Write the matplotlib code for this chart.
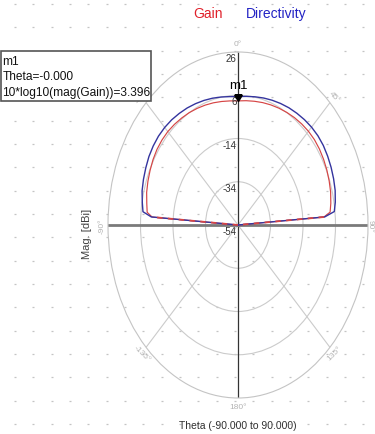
import numpy as np
import matplotlib
matplotlib.use("Agg")
import matplotlib.pyplot as plt
from matplotlib.patches import Rectangle
from matplotlib.path import Path

plt.rcParams['font.family'] = ['Liberation Sans', 'DejaVu Sans']

# ---------------- data ----------------
theta_deg = [-90, -86, -84, -80, -75, -70, -65, -60, -55, -50, -45, -40, -35, -30, -25,
             -20, -15, -10, -5, 0, 5, 10, 15, 20, 25, 30, 35, 40, 45, 50, 55, 60, 65,
             70, 75, 80, 84, 86, 90]
gain_db = [-60, -1.0, 2.2, 3.0, 4.2, 5.0, 5.7, 6.4, 6.9, 7.1, 7.1, 6.8, 6.4, 6.0, 5.5,
           5.0, 4.5, 4.0, 3.6, 3.396, 3.7, 4.1, 4.6, 5.1, 5.6, 6.1, 6.6, 7.0, 7.3, 7.4, 7.2, 6.8, 6.3,
           5.7, 5.0, 4.0, 3.0, -1.0, -60]
directivity_db = [-60, -0.5, 4.8, 5.8, 7.1, 7.9, 8.6, 9.3, 9.7, 9.9, 9.8, 9.5, 9.0, 8.5, 7.9,
                  7.3, 6.7, 6.1, 5.6, 5.4, 5.7, 6.2, 6.8, 7.4, 8.0, 8.6, 9.1, 9.6, 10.0, 10.2, 10.1, 9.7, 9.2,
                  8.6, 7.9, 6.8, 5.6, -0.5, -60]
r_ticks = [26, 6, -14, -34, -54]
r_min, r_max = -54, 26
theta_label_deg = [0, 45, 90, 135, 180, -135, -90, -45]
theta_label_rot = [0, -45, -90, 45, 0, -45, 90, 45]
theta_label_off = [3.8, 3.8, 1.2, 3.8, 3.8, 3.8, 3.8, 3.8]
marker_theta = 0.0
marker_value = 3.396
series_names = ["Gain", "Directivity"]
series_colors = ["#d64545", "#34349e"]
legend_colors = ["#e0202a", "#2323c4"]

W, H = 375, 435
fig = plt.figure(figsize=(W / 100, H / 100), dpi=100)

# background dotted grid
bg = fig.add_axes([0, 0, 1, 1], zorder=0)
bg.set_xlim(0, W); bg.set_ylim(H, 0); bg.axis('off')
gx, gy = np.meshgrid(np.arange(15, W, 18.33), np.arange(5, H, 23.33))
bg.plot(gx.ravel(), gy.ravel(), ls='none', marker='_', ms=2.0, mew=0.9, color='#c4c4c4')

# polar (elliptical) axes
cx, cy, hr, vr = 238, 226, 130, 173
ax = fig.add_axes([(cx - hr) / W, (H - (cy + vr)) / H, 2 * hr / W, 2 * vr / H],
                  projection='polar', zorder=1)
ax.set_aspect('auto')
ax.patch.set_facecolor('none')
ax.set_theta_zero_location('N')
ax.set_theta_direction(-1)
ax.set_ylim(r_min, r_max)
ax.set_yticks([-34, -14, 6])
ax.set_yticklabels([])
ax.set_xticks(np.deg2rad([45, 135, 225, 315]))
ax.set_xticklabels([])
ax.grid(True, color='#cbcbcb', lw=0.8)
ax.spines['polar'].set_color('#c4c4c4')
ax.spines['polar'].set_linewidth(0.8)

# main axis lines
for a in (0, 180):
    ax.plot(np.deg2rad([a, a]), [r_min, r_max], color='#333333', lw=0.9, zorder=2)
for a in (90, -90):
    ax.plot(np.deg2rad([a, a]), [r_min, r_max], color='#7a7a7a', lw=2.0, zorder=2)

th = np.deg2rad(theta_deg)
g = np.maximum(np.array(gain_db), r_min)
d = np.maximum(np.array(directivity_db), r_min)
ax.plot(th, g, color=series_colors[0], lw=0.85, zorder=3)
ax.plot(th, d, color=series_colors[1], lw=1.0, zorder=4)
# overlapping tails: dashed look
for sl in (slice(0, 2), slice(-2, None)):
    ax.plot(th[sl], g[sl], color=series_colors[0], lw=1.3, ls=(0, (3, 3)), zorder=5)

# theta labels
for a, rot, off in zip(theta_label_deg, theta_label_rot, theta_label_off):
    ax.text(np.deg2rad(a), r_max + off, f"{a}°", rotation=rot, ha='center', va='center',
            fontsize=6, color='#b3b3b3', clip_on=False, rotation_mode='anchor')

# radial labels
for r in r_ticks:
    ax.annotate(str(r), xy=(0, r), xytext=(-1.5, -1), textcoords='offset pixels',
                ha='right', va='top', fontsize=7, color='#333333', zorder=6)

# marker
tri = Path([(-0.6, 1.0), (0.6, 1.0), (0.0, 0.0), (-0.6, 1.0)],
           [Path.MOVETO, Path.LINETO, Path.LINETO, Path.CLOSEPOLY])
ax.plot([np.deg2rad(marker_theta)], [marker_value], ls='none', marker=tri, ms=9,
        color='black', zorder=7)
ax.annotate('m1', xy=(np.deg2rad(marker_theta), marker_value), xytext=(0, 16),
            textcoords='offset pixels', ha='center', va='center', fontsize=9.5,
            color='black', zorder=7)

# foreground overlay
fg = fig.add_axes([0, 0, 1, 1], zorder=2)
fg.set_xlim(0, W); fg.set_ylim(H, 0); fg.axis('off')
fg.patch.set_alpha(0)
fg.text(208.5, 14, series_names[0], ha='center', va='center', fontsize=10, color=legend_colors[0])
fg.text(276, 14, series_names[1], ha='center', va='center', fontsize=10, color=legend_colors[1])
fg.add_patch(Rectangle((0.5, 52), 150.5, 50, fc='white', ec='#555555', lw=1.2))
for yy, s in zip([62, 77.5, 93], ["m1", "Theta=-0.000", f"10*log10(mag(Gain))={marker_value:.3f}"]):
    fg.text(2.5, yy, s, ha='left', va='center', fontsize=8.6, color='#111111')
fg.text(87, 234, "Mag. [dBi]", rotation=90, ha='center', va='center', fontsize=8, color='#404040')
fg.text(238, 426, "Theta (-90.000 to 90.000)", ha='center', va='center', fontsize=7.5, color='#303030')

fig.savefig('out.png', dpi=100)
